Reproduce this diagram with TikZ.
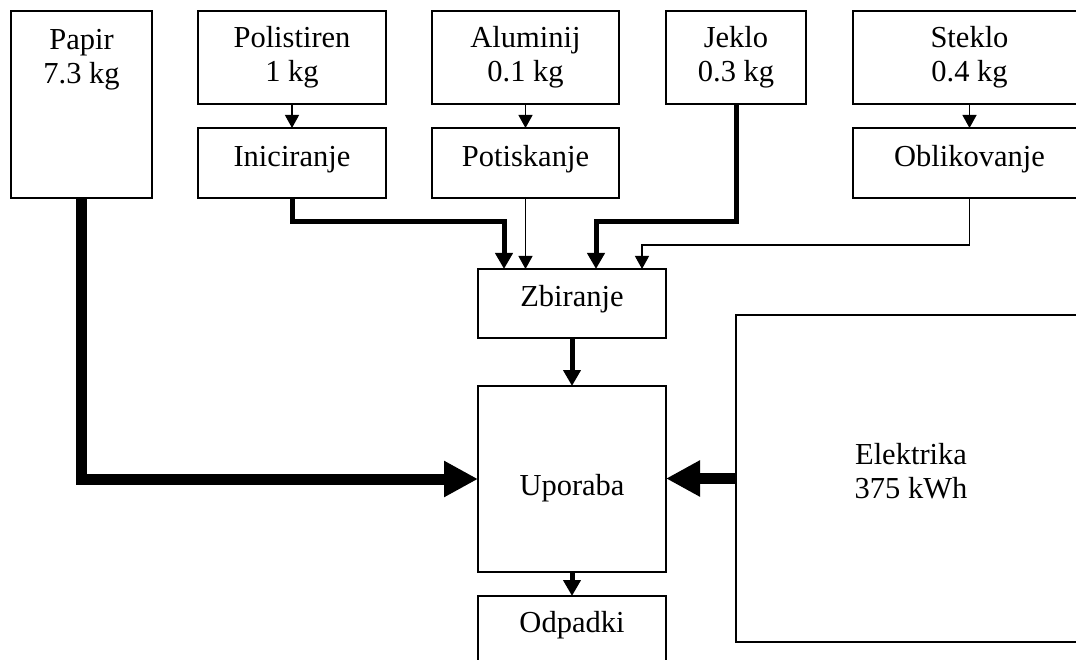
\documentclass[tikz,border=0pt]{standalone}
\usepackage{fontspec}
\setmainfont{Liberation Serif}
\usetikzlibrary{arrows.meta}
\begin{document}
\begin{tikzpicture}[x=1pt,y=-1pt,
  lbl/.style={font=\fontsize{30.5}{34}\selectfont, align=center},
  box/.style={lbl, draw, line width=1.2pt, inner sep=0pt, outer sep=0pt},
  proc/.style={box, text height=15pt, text depth=7pt},
  txt/.style={lbl, inner sep=0pt},
  feed/.style={line width=1.2pt, -{Triangle[length=13pt,width=14pt]}},
  mainflow/.style={line width=5pt, -{Triangle[length=16pt,width=17pt]}},
  heavy/.style={line width=11pt, -{Triangle[length=34pt,width=34pt]}}
]
\fill[white] (0,0) rectangle (1076,660);
\useasboundingbox (0,0) rectangle (1076,660);
\clip (0,0) rectangle (1076,660);

% material inputs
\node[box, minimum width=141pt, minimum height=187pt] (papir) at (81.5,104.5) {};
\node[txt, anchor=north] (papir-t) at ([yshift=-18pt]papir.north) {Papir\\7.3 kg};
\node[box, minimum width=188pt, minimum height=93pt] (polistiren) at (292,57.5) {Polistiren\\1 kg};
\node[box, minimum width=187pt, minimum height=93pt] (aluminij) at (525.5,57.5) {Aluminij\\0.1 kg};
\node[box, minimum width=140pt, minimum height=93pt] (jeklo) at (736,57.5) {Jeklo\\0.3 kg};
\node[box, minimum width=233pt, minimum height=93pt] (steklo) at (969.5,57.5) {Steklo\\0.4 kg};

% processing steps
\node[proc, minimum width=188pt, minimum height=70pt] (iniciranje) at (292,163) {Iniciranje};
\node[proc, minimum width=187pt, minimum height=70pt] (potiskanje) at (525.5,163) {Potiskanje};
\node[proc, minimum width=233pt, minimum height=70pt] (oblikovanje) at (969.5,163) {Oblikovanje};

% assembly, use and disposal
\node[box, minimum width=188pt, minimum height=69pt, text height=14pt, text depth=7pt] (zbiranje) at (572,303.5) {Zbiranje};
\node[box, minimum width=188pt, minimum height=186pt, text height=32pt, text depth=0pt] (uporaba) at (572,479) {Uporaba};
\node[box, minimum width=188pt, minimum height=70pt, text height=16pt, text depth=14pt] (odpadki) at (572,631) {Odpadki};
\node[box, minimum width=350pt, minimum height=327pt] (elektrika) at (911,478.5) {};
\node[txt] (elektrika-t) at ([yshift=7pt]elektrika.center) {Elektrika\\375 kWh};

% turning points of the collecting lines
\coordinate (ini-turn) at (504,222);
\coordinate (jek-turn) at (596,222);
\coordinate (obl-turn) at (642,245);

% connectors
\draw[feed] (polistiren.south) -- (iniciranje.north);
\draw[feed] (aluminij.south) -- (potiskanje.north);
\draw[feed] (steklo.south) -- (oblikovanje.north);

\draw[mainflow] (iniciranje.south) |- (ini-turn) -- (ini-turn |- zbiranje.north);
\draw[feed] (potiskanje.south) -- (potiskanje.south |- zbiranje.north);
\draw[mainflow] (jeklo.south) |- (jek-turn) -- (jek-turn |- zbiranje.north);
\draw[feed] (oblikovanje.south) |- (obl-turn) -- (obl-turn |- zbiranje.north);

\draw[mainflow] (zbiranje.south) -- (uporaba.north);
\draw[mainflow] (uporaba.south) -- (odpadki.north);

\draw[heavy] (papir.south) |- (uporaba.west);
\draw[heavy] (elektrika.west) -- (elektrika.west -| uporaba.east);
\end{tikzpicture}
\end{document}
